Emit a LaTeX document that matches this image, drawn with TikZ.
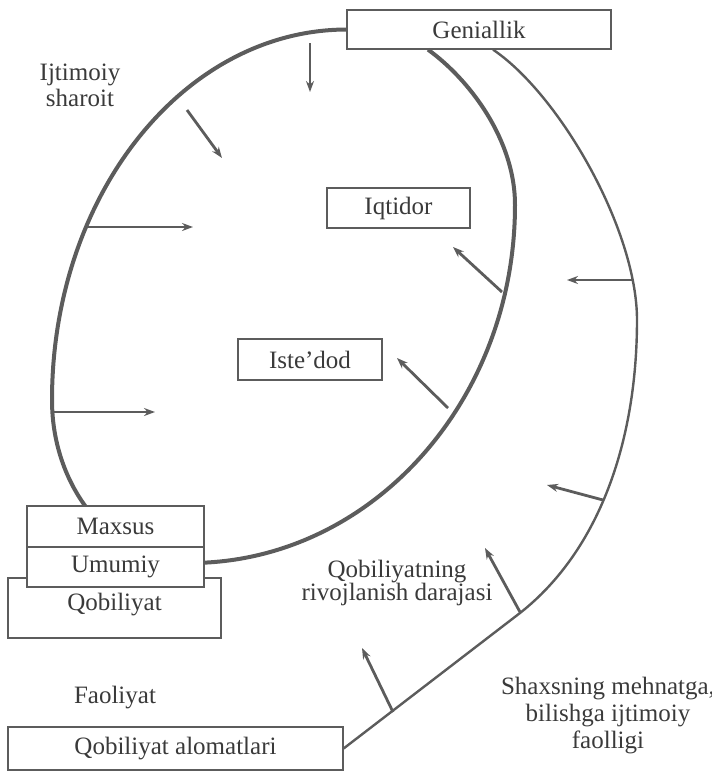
\documentclass[tikz,border=0pt]{standalone}
\usepackage{fontspec}
\setmainfont{Liberation Serif}
\usepackage{tikz}
\usetikzlibrary{arrows.meta}

\definecolor{linegray}{HTML}{5C5C5C}
\definecolor{inkgray}{HTML}{3A3A3A}

\tikzset{
  frame/.style={draw=linegray, fill=white, line width=0.6pt, inner sep=0pt,
                text=inkgray, font=\fontsize{12.5}{14}\selectfont},
  caption/.style={text=inkgray, align=center, font=\fontsize{12.5}{13}\selectfont},
  push/.style={-{Stealth[length=5.5pt,width=4pt]}, draw=linegray, line width=1.4pt},
}

\begin{document}
\begin{tikzpicture}[x=0.5pt,y=-0.5pt]
            \useasboundingbox (0,0) rectangle (712,772);
            % boxes
            \node[frame, minimum width=132pt, minimum height=19.5pt] (gen) at (479,29.5) {Geniallik};
            \node[frame, minimum width=71.5pt, minimum height=20pt] (iqt) at (398.5,208) {Iqtidor};
            \node[frame, minimum width=72pt, minimum height=20.5pt] (ist) at (310,359.5) {Iste'dod};
            \node[frame, minimum width=167.5pt, minimum height=21.5pt] (alom) at (175.5,748.5) {Qobiliyat alomatlari};
            % the two curves
            \draw[linegray, line width=2pt] (gen.west)
              .. controls (183,30) and (52,196) .. (52,400)
              .. controls (52,490) and (114,563) .. (190,563)
              .. controls (369,563) and (515,403) .. (515,205)
              .. controls (515,140) and (470,80) .. (gen.south -| 428,0);
            \draw[linegray, line width=1.2pt] (gen.south -| 493,0)
              .. controls (560,95) and (637,230) .. (637,320)
              .. controls (637,440) and (600,550) .. (520,613)
              -- (alom.east);
            % arrows
            \foreach \xa/\ya/\xb/\yb in {310/43/310/92, 187/110/222/158, 88/227/193/227, 53/412/155/412,
                               502/292/453/247, 448/408/397/358, 632/280/567/280,
                               603/500/547/485, 520/612/485/548, 393/712/362/648}
              \draw[push] (\xa,\ya) -- (\xb,\yb);
            % boxes on top of the curves
            \node[frame, minimum width=106.5pt, minimum height=30pt, text depth=6pt] (qob) at (114.5,608) {Qobiliyat};
            \node[frame, minimum width=88.5pt, minimum height=20.5pt] (max) at (115.5,526.5) {Maxsus};
            \node[frame, minimum width=88.5pt, minimum height=20pt] (umu) at (115.5,567) {Umumiy};
            % texts
            \node[caption] (ijt) at (80,85) {Ijtimoiy\\sharoit};
            \node[caption] (fao) at (115,698) {Faoliyat};
            \node[caption, font=\fontsize{12.5}{11.5}\selectfont] (riv) at (397,583) {Qobiliyatning\\rivojlanish darajasi};
            \node[caption, font=\fontsize{12.5}{13.5}\selectfont] (sha) at (608,716) {Shaxsning mehnatga,\\bilishga ijtimoiy\\faolligi};
        \end{tikzpicture}
\end{document}
